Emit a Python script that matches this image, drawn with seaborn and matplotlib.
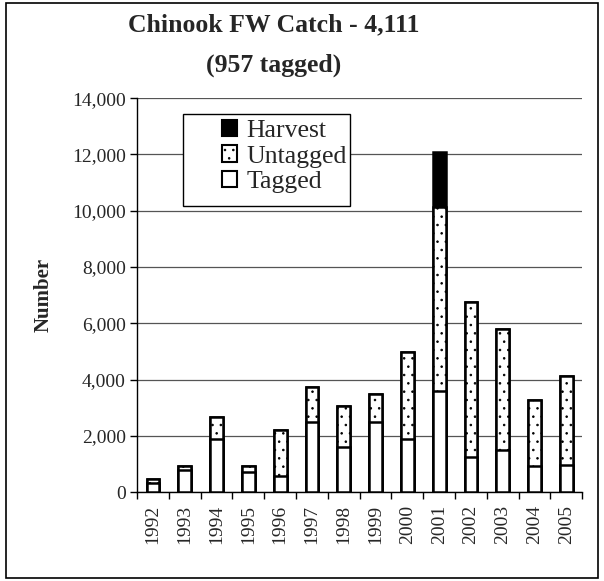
import numpy as np
import pandas as pd
import matplotlib
matplotlib.use("Agg")
import matplotlib.pyplot as plt
import matplotlib.ticker as mticker
from matplotlib.patches import Patch, Rectangle
import seaborn as sns

# values
years = [str(y) for y in range(1992, 2006)]
tagged = [320, 800, 1890, 700, 580, 2500, 1590, 2500, 1880, 3600, 1230, 1500, 940, 957]
untagged = [130, 130, 770, 230, 1610, 1220, 1460, 970, 3100, 6540, 5510, 4280, 2350, 3154]
harvest = [0, 0, 0, 0, 0, 0, 0, 0, 0, 1950, 0, 0, 0, 0]

df = pd.DataFrame({"year": years, "Tagged": tagged, "Untagged": untagged, "Harvest": harvest})
df["tag_untag"] = df["Tagged"] + df["Untagged"]
df["total"] = df["tag_untag"] + df["Harvest"]

sns.set_style("white")
plt.rcParams["font.family"] = ["Liberation Serif", "DejaVu Serif"]
plt.rcParams["hatch.linewidth"] = 0.6

fig = plt.figure(figsize=(6.04, 5.81), dpi=100)
ax = fig.add_axes([0.227, 0.153, 0.737, 0.678])

bar_kw = dict(x="year", width=0.4, edgecolor="black", linewidth=1.8, ax=ax, zorder=3)

# stacked bars drawn as layers: total, tagged+untagged, tagged
sns.barplot(data=df, y="total", color="black", **bar_kw)
n0 = len(ax.patches)
sns.barplot(data=df, y="tag_untag", color="white", **bar_kw)
for p in ax.patches[n0:]:
    p.set_hatch("..")
sns.barplot(data=df, y="Tagged", color="white", **bar_kw)

ax.set_ylim(0, 14000)
ax.set_xlim(-0.5, len(years) - 0.5)
ax.yaxis.set_major_locator(mticker.MultipleLocator(2000))
ax.yaxis.set_major_formatter(mticker.FuncFormatter(lambda v, p: f"{int(v):,}"))
ax.grid(axis="y", color="#555555", linewidth=0.9, zorder=0)
ax.set_axisbelow(True)

for s in ["top", "right"]:
    ax.spines[s].set_visible(False)
for s in ["left", "bottom"]:
    ax.spines[s].set_color("black")
    ax.spines[s].set_linewidth(1.0)

ax.tick_params(axis="y", which="major", direction="out", length=5, width=1,
               color="black", labelsize=14, left=True, pad=3)
ax.set_xticks(range(len(years)))
ax.set_xticklabels(years, rotation=90)
ax.xaxis.set_minor_locator(mticker.FixedLocator(np.arange(-0.5, len(years), 1)))
ax.tick_params(axis="x", which="major", length=0, labelsize=14, pad=9)
ax.tick_params(axis="x", which="minor", direction="out", length=5, width=1,
               color="black", bottom=True)

ax.set_xlabel("")
ax.set_ylabel("Number", fontsize=15, fontweight="bold", labelpad=13)

fig.text(0.453, 0.957, "Chinook FW Catch - 4,111", ha="center", va="center",
         fontsize=18.5, fontweight="bold")
fig.text(0.453, 0.888, "(957 tagged)", ha="center", va="center",
         fontsize=18.5, fontweight="bold")

# legend box (white, covers the gridline) with the entries inset like the original
ax.add_patch(Rectangle((183 / 604, 1 - 206 / 581), 167 / 604, 92 / 581,
                       transform=fig.transFigure, facecolor="white",
                       edgecolor="black", linewidth=1.0, zorder=4))
handles = [
    Patch(facecolor="black", edgecolor="black", linewidth=1.5, label="Harvest"),
    Patch(facecolor="white", edgecolor="black", linewidth=1.5, hatch="..", label="Untagged"),
    Patch(facecolor="white", edgecolor="black", linewidth=1.5, label="Tagged"),
]
leg = ax.legend(handles=handles, loc="upper left",
                bbox_to_anchor=(222 / 604, 1 - 120 / 581),
                bbox_transform=fig.transFigure,
                fontsize=18.5, frameon=False, handlelength=0.6,
                handleheight=0.6, handletextpad=0.35, labelspacing=0.12,
                borderpad=0, borderaxespad=0)
leg.set_zorder(5)

fig.patches.append(Rectangle((0.01, 0.005), 0.98, 0.99, transform=fig.transFigure,
                             fill=False, edgecolor="black", linewidth=1.2))

fig.savefig("out.png", dpi=100)
